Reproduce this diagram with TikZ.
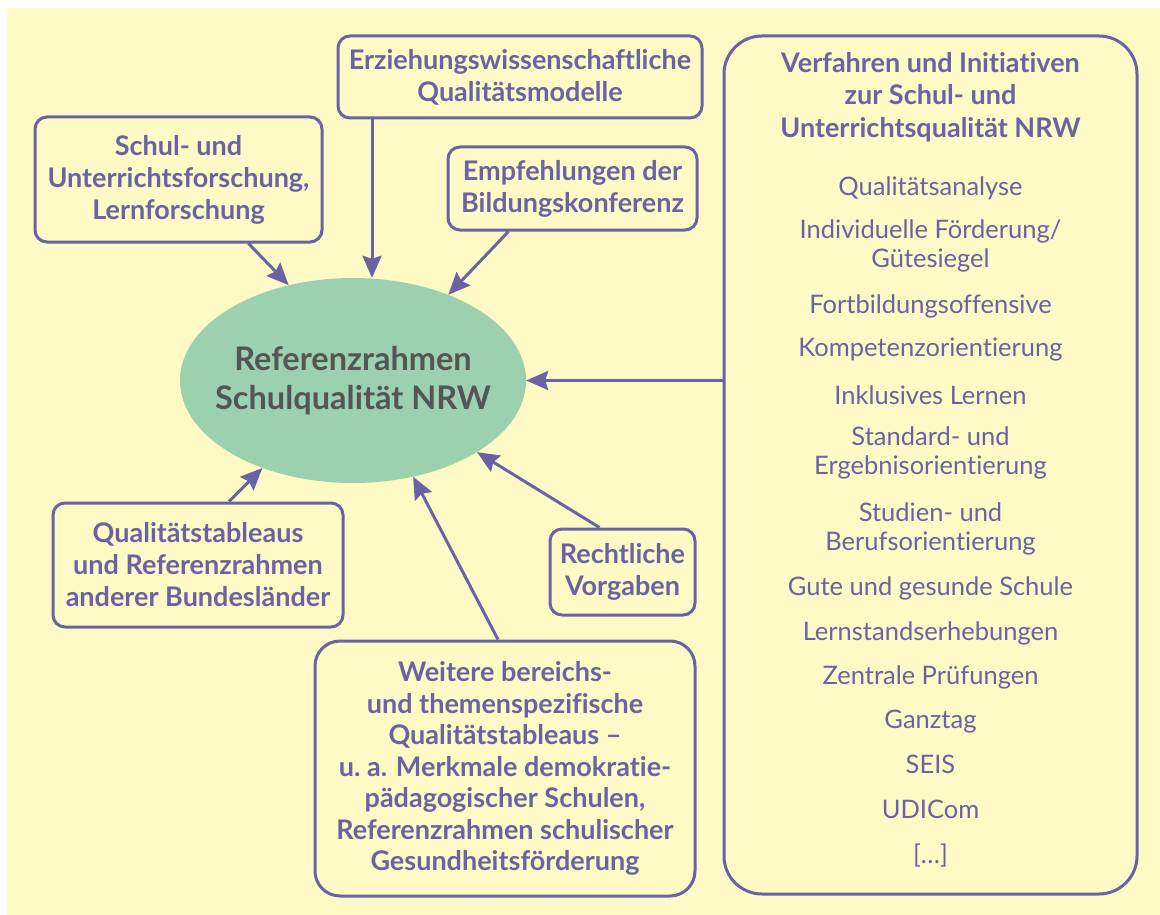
\documentclass[tikz,border=0pt]{standalone}
\usepackage{fontspec}
\setmainfont{Lato}[Ligatures=NoCommon]
\usetikzlibrary{arrows.meta,positioning,shapes.geometric}

\definecolor{lila}{RGB}{105,99,165}
\definecolor{gruen}{RGB}{155,209,174}
\definecolor{creme}{RGB}{255,249,197}
\definecolor{grautext}{RGB}{85,85,85}

\begin{document}
\begin{tikzpicture}[
x=1pt, y=-1pt,
quelle/.style={
  draw=lila,
  line width=3pt,
  rounded corners=12pt,
  text=lila,
  align=center,
  inner sep=0pt,
  font=\bfseries\fontsize{27}{32}\selectfont
},
punkt/.style={
  text=lila,
  align=center,
  inner sep=0pt,
  font=\fontsize{25.5}{29}\selectfont
},
pfeil/.style={
  draw=lila,
  line width=3pt,
  -{Stealth[length=22pt,width=19pt,inset=3pt]}
}
]
\useasboundingbox (0,0) rectangle (1160,915);
\fill[creme] (7,8) rectangle (1160,915);

% Mitte
\node[ellipse, fill=gruen, minimum width=346pt, minimum height=205pt, inner sep=0pt]
  (rahmen) at (353,380.5) {};
\node[align=center, inner sep=0pt, text=grautext, font=\bfseries\fontsize{32.5}{38.5}\selectfont]
  (rahmentext) at (rahmen.center) {Referenzrahmen\\Schulqualität NRW};

% Quellen
\node[quelle, minimum width=364pt, minimum height=82pt]
  (erzwiss) at (520,77) {Erziehungswissenschaftliche\\Qualitätsmodelle};
\node[quelle, minimum width=287pt, minimum height=125pt]
  (forschung) at (178.5,179.5) {Schul- und\\Unterrichtsforschung,\\Lernforschung};
\node[quelle, minimum width=249pt, minimum height=83pt]
  (empf) at (572.5,188.5) {Empfehlungen der\\Bildungskonferenz};
\node[quelle, minimum width=290pt, minimum height=124pt]
  (tableaus) at (198,565) {Qualitätstableaus\\und Referenzrahmen\\anderer Bundesländer};
\node[quelle, minimum width=145pt, minimum height=86pt]
  (recht) at (622.5,572) {Rechtliche\\Vorgaben};
\node[quelle, rounded corners=25pt, minimum width=380pt, minimum height=255pt,
  font=\bfseries\fontsize{27}{31.5}\selectfont]
  (weitere) at (505,768.5) {Weitere bereichs-\\und themenspezifische\\Qualitätstableaus --\\u.~a. Merkmale demokratie-\\pädagogischer Schulen,\\Referenzrahmen schulischer\\Gesundheitsförderung};

% Verfahren rechts
\node[quelle, rounded corners=38pt, minimum width=413pt, minimum height=858pt]
  (verf) at (930.5,465) {};
\node[punkt, font=\bfseries\fontsize{27}{32.5}\selectfont]
  (titel) at (930.5,97) {Verfahren und Initiativen\\zur Schul- und\\Unterrichtsqualität NRW};
\foreach \ypos/\txt [count=\i] in {
  188/Qualitätsanalyse,
  246/{Individuelle Förderung\slash\\Gütesiegel},
  306/Fortbildungsoffensive,
  350/Kompetenzorientierung,
  395/Inklusives Lernen,
  453/{Standard- und\\Ergebnisorientierung},
  529/{Studien- und\\Berufsorientierung},
  588/Gute und gesunde Schule,
  633/Lernstandserhebungen,
  677/Zentrale Prüfungen,
  722/Ganztag,
  764/SEIS,
  809/UDICom,
  856/{[\dots]}}
  \node[punkt] (item\i) at (930.5,\ypos) {\txt};

% Pfeile
\draw[pfeil] ([xshift=70pt]forschung.south) -- (rahmen.124);
\draw[pfeil] ([xshift=-148pt]erzwiss.south) -- ([xshift=-148pt]erzwiss.south |- rahmen.north);
\draw[pfeil] ([xshift=-64pt]empf.south) -- (rahmen.42);
\draw[pfeil] (verf.west |- rahmen.east) -- (rahmen.east);
\draw[pfeil] ([xshift=-23pt]recht.north) -- (rahmen.-30);
\draw[pfeil] ([xshift=-7pt]weitere.north) -- (rahmen.-58);
\draw[pfeil] ([xshift=31pt]tableaus.north) -- (rahmen.-136);
\end{tikzpicture}
\end{document}
